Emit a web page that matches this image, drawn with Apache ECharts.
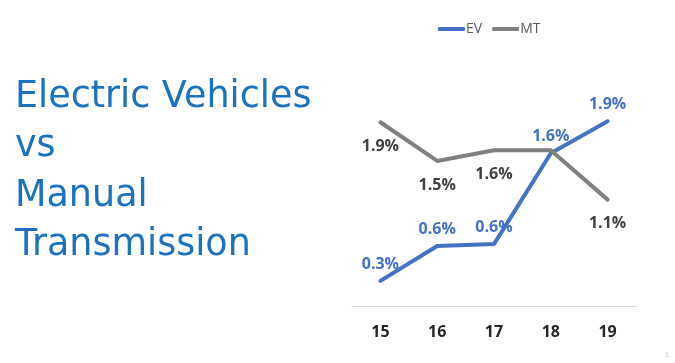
<!DOCTYPE html>
<html><head><meta charset="utf-8">
<script src="https://cdn.jsdelivr.net/npm/echarts@6/dist/echarts.min.js"></script>
<style>html,body{margin:0;padding:0;background:#fff}#c{width:675px;height:363px}</style>
</head><body><div id="c"></div>
<script>
const categories = ['15', '16', '17', '18', '19'];
const evValues = [0.26, 0.62, 0.64, 1.58, 1.91];
const mtValues = [1.90, 1.50, 1.61, 1.61, 1.10];
const mtHiddenLabel = 3; // label at "18" hidden behind EV's label in the reference
const titleLines = ['Electric Vehicles', 'vs', 'Manual', 'Transmission'];

const chart = echarts.init(document.getElementById('c'));
const pct = p => p.value.toFixed(1) + '%';
const mtData = mtValues.map((v, i) => i === mtHiddenLabel ? {value: v, label: {show: false}} : v);
chart.setOption({
  backgroundColor: '#fff',
  animation: false,
  title: {
    text: titleLines.join('\n'),
    left: 10, top: 67.5,
    textStyle: {fontFamily: 'DejaVu Sans', fontSize: 36.5, fontWeight: 'normal', color: '#1B72BF', lineHeight: 49.5}
  },
  legend: {
    top: 17, left: 433, itemGap: 10,
    itemWidth: 27, itemHeight: 4,
    textStyle: {fontFamily: 'Open Sans', fontSize: 14, color: '#595959', padding: [0,0,0,-4]},
    data: [{name: 'EV', icon: 'roundRect', itemStyle: {color: '#4472C4', opacity: 1}},
           {name: 'MT', icon: 'roundRect', itemStyle: {color: '#808080', opacity: 1}}]
  },
  grid: {left: 352, right: 39, top: 112.6, bottom: 57, containLabel: false},
  xAxis: {
    type: 'category', data: categories, boundaryGap: true,
    axisLine: {lineStyle: {color: '#D9D9D9', width: 1}},
    axisTick: {show: false},
    axisLabel: {margin: 18, fontFamily: 'Open Sans', fontSize: 16, fontWeight: 'bold', color: '#262626'}
  },
  yAxis: {type: 'value', min: 0, max: 2, show: false, splitLine: {show: false}},
  series: [
    {name: 'EV', type: 'line', data: evValues, symbol: 'circle', symbolSize: 1, showSymbol: true, color: '#4472C4',
     itemStyle: {color: 'rgba(0,0,0,0)'},
     lineStyle: {width: 4, color: '#4472C4', cap: 'round'},
     label: {show: true, position: 'top', distance: 8, formatter: pct, fontFamily: 'Open Sans', fontSize: 16, fontWeight: 'bold', color: '#4472C4'},
     labelLayout: {hideOverlap: false}},
    {name: 'MT', type: 'line', data: mtData, symbol: 'circle', symbolSize: 1, showSymbol: true, color: '#808080',
     itemStyle: {color: 'rgba(0,0,0,0)'},
     lineStyle: {width: 4, color: '#808080', cap: 'round'},
     label: {show: true, position: 'bottom', distance: 15.5, formatter: pct, fontFamily: 'Open Sans', fontSize: 16, fontWeight: 'bold', color: '#404040'},
     labelLayout: {hideOverlap: false}}
  ],
  graphic: [{type: 'text', left: 665, top: 352, style: {text: '1', fontSize: 7, fill: '#BFBFBF'}}]
});
</script></body></html>
